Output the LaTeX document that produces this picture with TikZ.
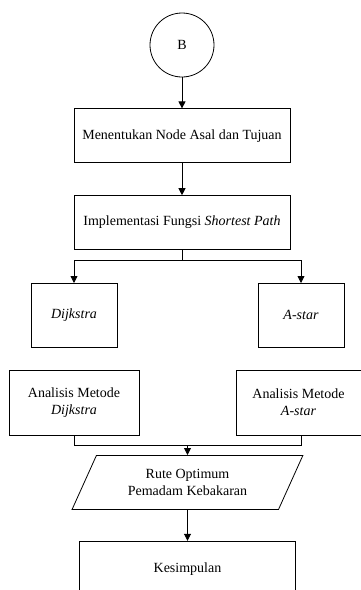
\documentclass[tikz,border=0pt]{standalone}
\usepackage{fontspec}
\setmainfont{Liberation Serif}
\usetikzlibrary{positioning}
\usetikzlibrary{shapes.geometric}
\usetikzlibrary{arrows.meta}

\begin{document}
\begin{tikzpicture}[x=1pt, y=1pt, line width=0.8pt, >={Triangle[length=7pt,width=7pt]},
    every node/.style={font=\fontsize{14}{17}\selectfont, align=center},
    stepbox/.style={rectangle, draw=black, line width=0.8pt, inner sep=2pt},
    roundnode/.style={circle, draw=black, line width=0.8pt, minimum size=64pt},
    datanode/.style={trapezium, trapezium left angle=63, trapezium right angle=117, trapezium stretches=true, draw=black, line width=0.8pt, minimum width=231pt, minimum height=54pt}]
    \useasboundingbox (0,0) rectangle (361,-590);
    %Nodes
    \node[roundnode]        (b)    at (182,-45)                          {B};
    \node[stepbox, minimum width=216pt, minimum height=54pt] (box1)  [below=31pt of b]     {Menentukan Node Asal dan Tujuan};
    \node[stepbox, minimum width=216pt, minimum height=54pt] (box2)  [below=32pt of box1]  {Implementasi Fungsi \textit{Shortest Path}};
    \node[stepbox, minimum width=86pt, minimum height=64pt]  (dijk)  [below=33pt of box2, xshift=-108pt] {\textit{Dijkstra}};
    \node[stepbox, minimum width=86pt, minimum height=64pt]  (astar) [below=33pt of box2, xshift=119pt]  {\textit{A-star}};
    \node[stepbox, minimum width=130pt, minimum height=65pt] (anaD)  [below=22pt of dijk]  {Analisis Metode\\\textit{Dijkstra}};
    \node[stepbox, minimum width=125pt, minimum height=65pt] (anaA)  [below=22pt of astar, xshift=-2.5pt] {Analisis Metode\\\textit{A-star}};
    \node[datanode]         (rute) [below=205pt of box2, xshift=5.5pt] {Rute Optimum\\Pemadam Kebakaran};
    \node[stepbox, minimum width=216pt, minimum height=56pt] (kes)   [below=31pt of rute]  {Kesimpulan};
    \coordinate[below=10pt of box2.south] (split);
    \coordinate[above=10pt of rute.north] (join);

    %Lines
    \draw[->] (b) -- (box1);
    \draw[->] (box1) -- (box2);
    \draw (box2.south) -- (split);
    \draw[->] (split) -| (dijk.north);
    \draw[->] (split) -| (astar.north);
    \draw (anaD.south) |- (join);
    \draw (anaA.south -| astar.south) |- (join);
    \draw[->] (join) -- (rute.north);
    \draw[->] (rute) -- (kes);
\end{tikzpicture}
\end{document}
